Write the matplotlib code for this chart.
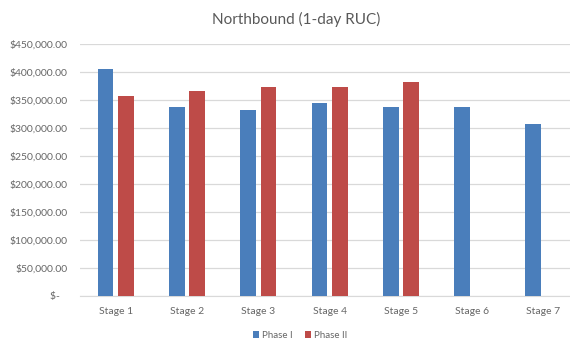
import numpy as np
import matplotlib.pyplot as plt
from matplotlib.ticker import FuncFormatter

stages = ['Stage 1', 'Stage 2', 'Stage 3', 'Stage 4', 'Stage 5', 'Stage 6', 'Stage 7']
phase1 = [405000, 337500, 331500, 344000, 337500, 337500, 306000]
phase2 = [356500, 366000, 372000, 372500, 382500, np.nan, np.nan]
series = ['Phase I', 'Phase II']

plt.rcParams['font.family'] = ['Lato', 'DejaVu Sans']

fig = plt.figure(figsize=(5.7, 3.41), dpi=100)
ax = fig.add_axes([80 / 570, 45 / 341, 490 / 570, 252.3 / 341])

x = np.arange(len(stages))
w = 0.22
gap = 0.065
ax.bar(x - (w + gap) / 2, phase1, w, color='#4a7ebb', label=series[0], zorder=3)
ax.bar(x + (w + gap) / 2, phase2, w, color='#be4b48', label=series[1], zorder=3)

ax.set_ylim(0, 450000)
ax.set_xlim(-0.5, -0.5 + 490 / 71.3)
ax.set_yticks(np.arange(0, 450001, 50000))
ax.yaxis.set_major_formatter(FuncFormatter(lambda v, p: '$-   ' if v == 0 else f'${v:,.2f}'))
ax.set_xticks(x)
ax.set_xticklabels(stages)
ax.tick_params(axis='both', length=0, labelsize=7.5, colors='#666666')
ax.tick_params(axis='y', pad=9)
ax.tick_params(axis='x', pad=8)
ax.grid(axis='y', color='#d9d9d9', linewidth=0.9, zorder=0)
for s in ['top', 'right', 'left']:
    ax.spines[s].set_visible(False)
ax.spines['bottom'].set_color('#d9d9d9')

fig.text(296 / 570, 1 - 19 / 341, 'Northbound (1-day RUC)', ha='center', va='center',
         fontsize=11, color='#595959')

fig.legend(loc='center', bbox_to_anchor=(300 / 570, 6 / 341), ncol=2, frameon=False,
           fontsize=7, handlelength=0.7, handleheight=0.7, handletextpad=0.3,
           columnspacing=1.2, labelcolor='#666666')

fig.savefig('out.png', dpi=100, facecolor='white')
